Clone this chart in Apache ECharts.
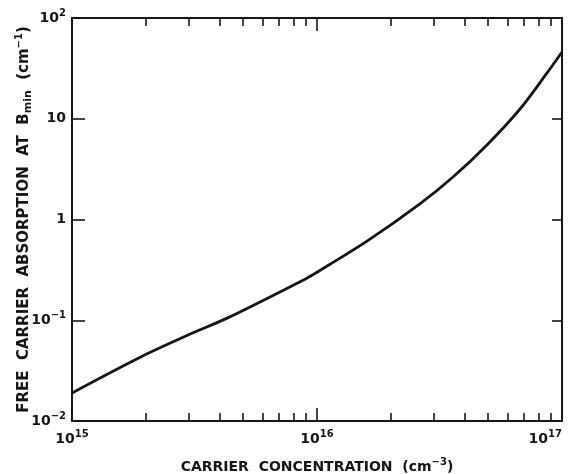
<!DOCTYPE html>
<html>
<head>
<meta charset="utf-8">
<script src="https://cdn.jsdelivr.net/npm/echarts@6/dist/echarts.min.js"></script>
<style>
  html, body { margin: 0; padding: 0; background: #fff; }
  #chart { width: 577px; height: 474px; }
</style>
</head>
<body>
<div id="chart"></div>
<script>
// Carrier concentration (cm^-3) and free carrier absorption at B_min (cm^-1)
const concentration = [1e15, 1.9e15, 3.12e15, 4.3e15, 8.77e15, 1.0e16, 1.6e16, 2.63e16, 3.59e16, 4.94e16, 6.74e16, 8.69e16, 1e17];
const absorption    = [0.019, 0.043, 0.075, 0.105, 0.25, 0.30, 0.61, 1.43, 2.64, 5.5, 12.5, 28.5, 46];

// Tick positions
const xMajorTicks = [1e16];
const xMinorTicks = [2e15, 3e15, 4e15, 5e15, 6e15, 7e15, 8e15, 9e15, 2e16, 3e16, 4e16, 5e16, 6e16, 7e16, 8e16, 9e16];
const yMajorTicks = [0.1, 1, 10];
const xLabelValues = [1e15, 1e16, 1e17];
const yLabelValues = [0.01, 0.1, 1, 10, 100];

const FONT = 'DejaVu Sans';
const INK = '#151515';

const rich = {
  b: { fontFamily: FONT, fontSize: 14, fontWeight: 'bold', color: INK, lineHeight: 20 },
  s: { fontFamily: FONT, fontSize: 10, fontWeight: 'bold', color: INK, lineHeight: 10, verticalAlign: 'top' },
  t: { fontFamily: FONT, fontSize: 14, fontWeight: 'bold', color: INK, lineHeight: 20 },
  ty: { fontFamily: FONT, fontSize: 15, fontWeight: 'bold', color: INK, lineHeight: 20 },
  sub: { fontFamily: FONT, fontSize: 11, fontWeight: 'bold', color: INK, lineHeight: 10, verticalAlign: 'bottom' }
};

function powLabel(v) {
  const e = Math.round(Math.log10(v));
  if (e === 0) return '{b|1}';
  if (e === 1) return '{b|10}';
  return '{b|10}{s|' + (e < 0 ? '\u2212' + (-e) : e) + '}';
}

const tickLine = { color: INK, width: 1.6 };

function xAxisBase(pos) {
  return {
    type: 'log', logBase: 10, min: 1e15, max: 1e17, position: pos,
    axisLine: { show: false }, splitLine: { show: false },
    axisLabel: { show: false }
  };
}

const chart = echarts.init(document.getElementById('chart'), null, { renderer: 'canvas' });
chart.setOption({
  animation: false,
  backgroundColor: '#fff',
  grid: {
    left: 72, right: 15, top: 18, bottom: 53,
    show: true, borderColor: INK, borderWidth: 2,
    containLabel: false, outerBoundsMode: 'none'
  },
  xAxis: [
    Object.assign(xAxisBase('bottom'), {
      axisTick: { inside: true, length: 13, lineStyle: tickLine, customValues: xMajorTicks },
      axisLabel: {
        show: true, margin: 8, formatter: powLabel, rich: rich,
        customValues: xLabelValues, alignMaxLabel: 'right'
      },
      name: '{t|CARRIER  CONCENTRATION  (cm}{s|\u22123}{t|)}',
      nameLocation: 'middle', nameGap: 36, nameMoveOverlap: false,
      nameTextStyle: { rich: rich }
    }),
    Object.assign(xAxisBase('bottom'), {
      axisTick: { inside: true, length: 8, lineStyle: tickLine, customValues: xMinorTicks }
    }),
    Object.assign(xAxisBase('top'), {
      axisTick: { inside: true, length: 13, lineStyle: tickLine, customValues: xMajorTicks }
    }),
    Object.assign(xAxisBase('top'), {
      axisTick: { inside: true, length: 8, lineStyle: tickLine, customValues: xMinorTicks }
    })
  ],
  yAxis: [
    {
      type: 'log', logBase: 10, min: 0.01, max: 100, position: 'left',
      axisLine: { show: false }, splitLine: { show: false },
      axisTick: { inside: true, length: 13, lineStyle: tickLine, customValues: yMajorTicks },
      axisLabel: { show: true, margin: 6, formatter: powLabel, rich: rich, customValues: yLabelValues },
      name: '{ty|FREE  CARRIER  ABSORPTION  AT  B}{sub|min}{ty|  (cm}{s|\u22121}{ty|)}',
      nameLocation: 'middle', nameGap: 38, nameRotate: 90, nameMoveOverlap: false,
      nameTextStyle: { rich: rich }
    },
    {
      type: 'log', logBase: 10, min: 0.01, max: 100, position: 'right',
      axisLine: { show: false }, splitLine: { show: false },
      axisTick: { inside: true, length: 10, lineStyle: tickLine, customValues: yMajorTicks },
      axisLabel: { show: false }
    }
  ],
  series: [{
    type: 'line',
    xAxisIndex: 0, yAxisIndex: 0,
    data: concentration.map((c, i) => [c, absorption[i]]),
    smooth: 0.3,
    showSymbol: false,
    lineStyle: { color: INK, width: 2.8 }
  }]
});
</script>
</body>
</html>
